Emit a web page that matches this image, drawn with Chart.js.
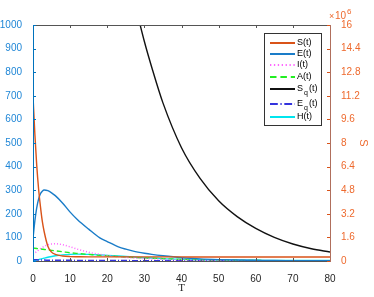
<!DOCTYPE html>
<html lang="en">
<head>
<meta charset="utf-8">
<script src="https://cdn.jsdelivr.net/npm/chart.js"></script>
<title>SEIAH model</title>
<style>
  html, body { margin: 0; padding: 0; background: #fff; }
</style>
</head>
<body>
<canvas id="myChart" width="374" height="297"></canvas>
<script>
// time grid shared by all series
const tGrid = [0, 0.5, 1, 1.5, 2, 2.5, 3, 4, 5, 6, 8, 10, 12, 15, 18, 20, 23, 25, 27, 30, 32, 35, 40, 45, 50, 55, 60, 65, 70, 75, 80];

// S(t) is on the right axis, in units of 10^6
const sVals  = [11.2, 8.6, 6.5, 4.9, 3.7, 2.7, 2.0, 1.0, 0.6, 0.45, 0.34, 0.3, 0.29, 0.28, 0.28, 0.28, 0.28, 0.28, 0.28, 0.28, 0.28, 0.28, 0.28, 0.27, 0.27, 0.27, 0.27, 0.27, 0.27, 0.27, 0.27];
const eVals  = [95, 170, 225, 262, 285, 296, 301, 298, 289, 277, 245, 207, 175, 135, 98, 82, 60, 50, 42, 33, 28, 22, 14, 9, 6, 4, 3, 2, 1.5, 1, 1];
const iVals  = [28, 34, 40, 46, 52, 57, 62, 69, 72, 73, 69, 60, 50, 37, 28, 23, 18, 15, 13, 10, 9, 7, 5, 3.5, 2.5, 2, 1.5, 1, 1, 0.5, 0.5];
const aVals  = [55, 54, 53, 52, 51, 50, 49, 47, 45, 43, 39, 35, 32, 28, 24, 22, 19, 17, 15, 13, 12, 10, 7, 5.5, 4, 3, 2, 1.5, 1, 1, 1];
const sqVals = [null, null, null, null, null, null, null, null, null, null, null, null, null, null, null, 1700, 1400, 1250, 1120, 930, 820, 670, 480, 350, 255, 188, 138, 100, 72, 52, 38];
const eqVals = [5, 5, 5, 4.5, 4, 4, 4, 3.5, 3, 3, 3, 3, 2.5, 2.5, 2, 2, 2, 2, 1.5, 1.5, 1.5, 1.5, 1, 1, 1, 1, 1, 1, 1, 1, 1];
const hVals  = [0, 2, 4, 6, 8, 10, 12, 16, 19, 22, 26, 28, 29, 28, 26, 24, 21, 19, 17, 14, 13, 10, 7, 5, 4, 3, 3, 2, 2, 2, 2];

const xTicks = [0, 10, 20, 30, 40, 50, 60, 70, 80];
const leftTicks = [0, 100, 200, 300, 400, 500, 600, 700, 800, 900, 1000];
const rightTicks = [0, 1.6, 3.2, 4.8, 6.4, 8, 9.6, 11.2, 12.8, 14.4, 16];

const blue = '#0072BD';
const orange = '#D95319';

function pts(vals) {
  return tGrid.map((t, i) => ({ x: t, y: vals[i] }));
}

const series = [
  { label: 'S(t)', sub: null, data: sVals, color: orange, dash: [], width: 1.4, axis: 'y1' },
  { label: 'E(t)', sub: null, data: eVals, color: '#1a7cc8', dash: [], width: 1.4, axis: 'y' },
  { label: 'I(t)', sub: null, data: iVals, color: '#FF66FF', dash: [1, 2], width: 1.5, axis: 'y' },
  { label: 'A(t)', sub: null, data: aVals, color: '#22EE22', dash: [5, 3], width: 1.4, axis: 'y' },
  { label: 'S', sub: 'q', data: sqVals, color: '#111111', dash: [], width: 1.4, axis: 'y' },
  { label: 'E', sub: 'q', data: eqVals, color: '#3333DD', dash: [6, 2, 1, 2], width: 1.5, axis: 'y' },
  { label: 'H(t)', sub: null, data: hVals, color: '#00E5EE', dash: [], width: 1.4, axis: 'y' }
];

const frame = {
  id: 'frame',
  afterDraw(chart) {
    const ctx = chart.ctx;
    const a = chart.chartArea;
    const sx = chart.scales.x, sy = chart.scales.y, sr = chart.scales.y1;
    ctx.save();
    ctx.lineWidth = 1;
    // top and bottom edges
    ctx.strokeStyle = '#555555';
    ctx.beginPath();
    ctx.moveTo(a.left, a.top + 0.5); ctx.lineTo(a.right, a.top + 0.5);
    ctx.moveTo(a.left, a.bottom + 0.5); ctx.lineTo(a.right, a.bottom + 0.5);
    xTicks.forEach(v => {
      const px = Math.round(sx.getPixelForValue(v)) + 0.5;
      ctx.moveTo(px, a.bottom); ctx.lineTo(px, a.bottom - 3);
      ctx.moveTo(px, a.top); ctx.lineTo(px, a.top + 3);
    });
    ctx.stroke();
    // left axis
    ctx.strokeStyle = blue;
    ctx.beginPath();
    ctx.moveTo(a.left + 0.5, a.top); ctx.lineTo(a.left + 0.5, a.bottom + 1);
    leftTicks.forEach(v => {
      const py = Math.round(sy.getPixelForValue(v)) + 0.5;
      ctx.moveTo(a.left, py); ctx.lineTo(a.left + 3, py);
    });
    ctx.stroke();
    // right axis
    ctx.strokeStyle = '#b06f5c';
    ctx.beginPath();
    ctx.moveTo(a.right + 0.5, a.top); ctx.lineTo(a.right + 0.5, a.bottom + 1);
    ctx.stroke();
    ctx.strokeStyle = orange;
    ctx.beginPath();
    rightTicks.forEach(v => {
      const py = Math.round(sr.getPixelForValue(v)) + 0.5;
      ctx.moveTo(a.right, py); ctx.lineTo(a.right - 3, py);
    });
    ctx.stroke();

    // exponent label
    ctx.fillStyle = '#ee6a2e';
    ctx.textBaseline = 'alphabetic';
    ctx.textAlign = 'left';
    ctx.font = '9px "Liberation Sans", Arial, sans-serif';
    ctx.fillText('\u00d7', a.right - 1, a.top - 6);
    ctx.font = '10px "Liberation Sans", Arial, sans-serif';
    ctx.fillText('10', a.right + 5, a.top - 6);
    ctx.font = '8px "Liberation Sans", Arial, sans-serif';
    ctx.fillText('6', a.right + 17, a.top - 11);

    // legend
    const bx = 264, by = 33, bw = 57, bh = 92;
    ctx.fillStyle = '#ffffff';
    ctx.fillRect(bx, by, bw, bh);
    ctx.strokeStyle = '#333333';
    ctx.lineWidth = 1;
    ctx.strokeRect(bx + 0.5, by + 0.5, bw, bh);
    const rows = [43, 54, 65, 77, 89, 104, 117];
    series.forEach((s, i) => {
      const y = rows[i];
      ctx.strokeStyle = s.color;
      ctx.lineWidth = 2;
      ctx.setLineDash(s.dash.map(d => d * 1.3));
      ctx.beginPath();
      ctx.moveTo(270, y); ctx.lineTo(295, y);
      ctx.stroke();
      ctx.setLineDash([]);
      ctx.fillStyle = '#000000';
      ctx.textBaseline = 'middle';
      ctx.font = '9px "Liberation Sans", Arial, sans-serif';
      if (s.sub) {
        ctx.fillText(s.label, 297, rows[i]);
        let w = ctx.measureText(s.label).width;
        ctx.font = '7px "Liberation Sans", Arial, sans-serif';
        ctx.fillText(s.sub, 297 + w + 1, rows[i] + 4);
        w += ctx.measureText(s.sub).width + 1;
        ctx.font = '9px "Liberation Sans", Arial, sans-serif';
        ctx.fillText('(t)', 297 + w + 1, rows[i]);
      } else {
        ctx.fillText(s.label, 297, rows[i]);
      }
    });
    ctx.restore();
  }
};

const config = {
  type: 'line',
  data: {
    datasets: series.map(s => ({
      label: s.label,
      data: pts(s.data),
      yAxisID: s.axis,
      borderColor: s.color,
      backgroundColor: s.color,
      borderWidth: s.width,
      borderDash: s.dash,
      pointRadius: 0,
      fill: false,
      cubicInterpolationMode: 'monotone',
      spanGaps: false
    }))
  },
  options: {
    responsive: false,
    animation: false,
    events: [],
    layout: { padding: { top: 25, left: 0, right: 0, bottom: 0 } },
    plugins: { legend: { display: false }, tooltip: { enabled: false } },
    scales: {
      x: {
        type: 'linear',
        min: 0, max: 80,
        afterFit: s => { s.height = 36; },
        afterBuildTicks: s => { s.ticks = xTicks.map(v => ({ value: v })); },
        grid: { display: false },
        border: { display: false },
        ticks: { color: '#262626', padding: 4, maxRotation: 0, font: { family: '"Liberation Sans", Arial, sans-serif', size: 10 }, callback: v => String(v) },
        title: { display: true, text: 'T', color: '#262626', padding: { top: 0, bottom: 2 }, font: { family: '"Liberation Serif", "Times New Roman", serif', size: 11 } }
      },
      y: {
        position: 'left',
        min: 0, max: 1000,
        afterFit: s => { s.width = 33; },
        afterBuildTicks: s => { s.ticks = leftTicks.map(v => ({ value: v })); },
        grid: { display: false },
        border: { display: false },
        ticks: { color: '#1f86d6', padding: 3, font: { family: '"Liberation Sans", Arial, sans-serif', size: 10 }, callback: v => String(v) }
      },
      y1: {
        position: 'right',
        min: 0, max: 16,
        afterFit: s => { s.width = 44; },
        afterBuildTicks: s => { s.ticks = rightTicks.map(v => ({ value: v })); },
        grid: { display: false },
        border: { display: false },
        ticks: {
          color: '#ee6a2e', padding: 3,
          font: { family: '"Liberation Sans", Arial, sans-serif', size: 10 },
          callback: v => String(+v.toFixed(1))
        },
        title: { display: true, text: 'S', color: '#ee6a2e', padding: 4, font: { family: '"Liberation Sans", Arial, sans-serif', size: 11 } }
      }
    }
  },
  plugins: [frame]
};

const myChart = new Chart(document.getElementById('myChart'), config);
</script>
</body>
</html>
